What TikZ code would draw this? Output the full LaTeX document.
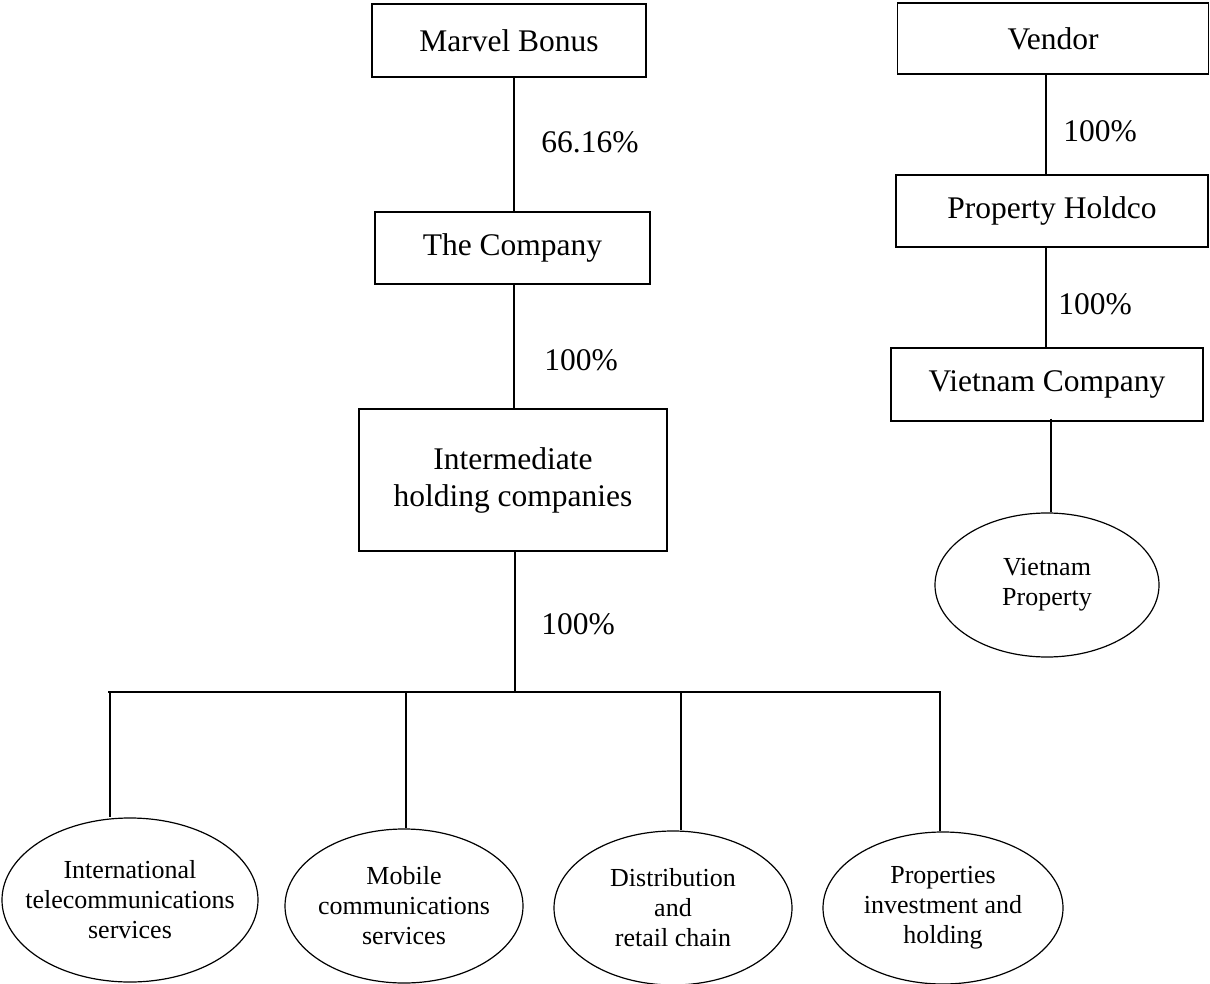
\documentclass[tikz,border=0pt]{standalone}
\usepackage{fontspec}
\setmainfont{Liberation Serif}
\usetikzlibrary{shapes.geometric}
\tikzset{
  boxnode/.style={draw, line width=1.3pt, rectangle, inner sep=0pt, align=center,
    font=\fontsize{31.5}{37}\selectfont},
  ovalnode/.style={draw, line width=1.2pt, ellipse, inner sep=-60pt, align=center,
    font=\fontsize{26}{30}\selectfont},
  pctlabel/.style={inner sep=0pt, font=\fontsize{31.5}{37}\selectfont},
  link/.style={line width=1.3pt},
  barline/.style={line width=2.2pt}
}
\begin{document}
\begin{tikzpicture}[x=1pt,y=-1pt]
\useasboundingbox (0,0) rectangle (1210,984);
% left tree
\node[boxnode, minimum width=274pt, minimum height=73pt] (mb) at (509,40.5) {Marvel Bonus};
\node[boxnode, minimum width=275pt, minimum height=72pt] (comp) at (512.5,248) {The Company};
\node[boxnode, minimum width=308pt, minimum height=142pt] (inter) at (513,480) {Intermediate\\holding companies};
\coordinate (spineA) at (514,0);
\coordinate (spineB) at (515,0);
\draw[link] (mb.south -| spineA) -- (comp.north -| spineA);
\draw[link] (comp.south -| spineA) -- (inter.north -| spineA);
\node[pctlabel] (p1) at (590,142) {66.16\%};
\node[pctlabel] (p2) at (581,360) {100\%};
\node[pctlabel] (p3) at (578,624) {100\%};
% bar
\coordinate (barL) at (108,692);
\coordinate (barR) at (941,692);
\coordinate (barM) at (515,692);
\draw[barline] (barL) -- (barR);
\draw[link] (inter.south -| barM) -- (barM);
% ovals
\node[ovalnode, minimum width=256pt, minimum height=164pt] (e1) at (130,900) {International\\telecommunications\\services};
\node[ovalnode, minimum width=238pt, minimum height=154pt] (e2) at (404,906) {Mobile\\communications\\services};
\node[ovalnode, minimum width=238pt, minimum height=154pt] (e3) at (673,908) {Distribution\\and\\retail chain};
\node[ovalnode, minimum width=240pt, minimum height=152pt] (e4) at (943,908) {Properties\\investment and\\holding};
\coordinate (d1) at (110,692);
\coordinate (d2) at (406,692);
\coordinate (d3) at (681,692);
\coordinate (d4) at (940,692);
\draw[link] (d1) -- (d1 |- e1.north);
\draw[link] (d2) -- (d2 |- e2.north);
\draw[link] (d3) -- (d3 |- e3.north);
\draw[link] (d4) -- (d4 |- e4.north);
% right tree
\node[boxnode, minimum width=311pt, minimum height=71pt] (vendor) at (1053,38.5) {Vendor};
\node[boxnode, minimum width=312pt, minimum height=72pt] (holdco) at (1052,211) {Property Holdco};
\node[boxnode, minimum width=312pt, minimum height=73pt] (vncomp) at (1047,384.5) {Vietnam Company};
\node[ovalnode, minimum width=224pt, minimum height=144pt] (vnprop) at (1047,585) {Vietnam\\Property};
\coordinate (spineR) at (1046,0);
\coordinate (spineV) at (1051,0);
\draw[link] (vendor.south -| spineR) -- (holdco.north -| spineR);
\draw[link] (holdco.south -| spineR) -- (vncomp.north -| spineR);
\draw[link] ([yshift=3pt]vncomp.south -| spineV) -- (vnprop.north -| spineV);
\node[pctlabel] (p4) at (1100,131) {100\%};
\node[pctlabel] (p5) at (1095,304) {100\%};
\end{tikzpicture}
\end{document}
